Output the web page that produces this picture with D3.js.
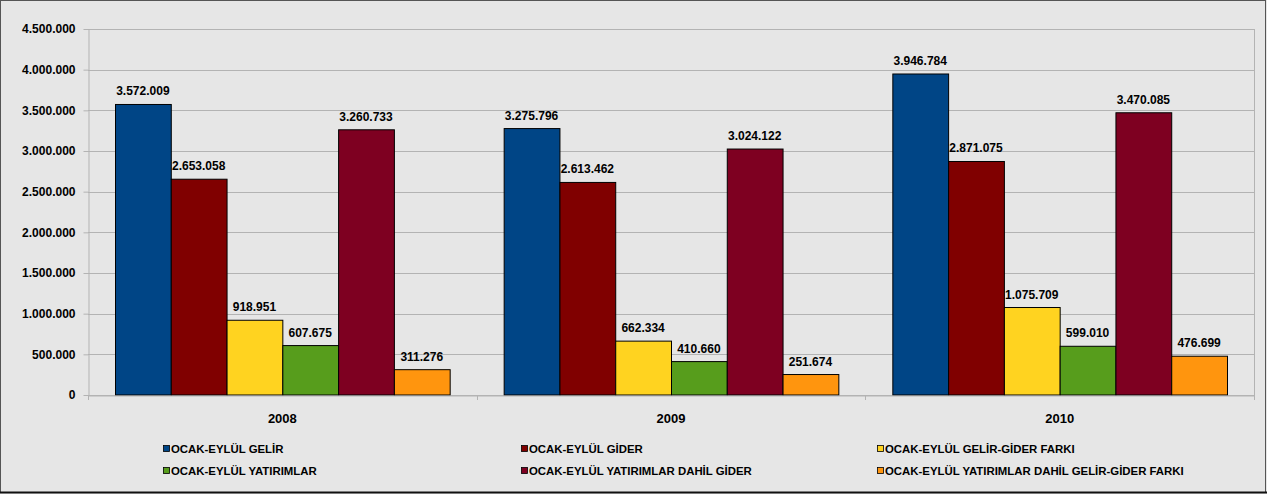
<!DOCTYPE html>
<html><head><meta charset="utf-8">
<script src="https://cdn.jsdelivr.net/npm/d3@7"></script>
<style>
html,body{margin:0;padding:0;background:#e6e6e6;}
svg{display:block;font-family:"Liberation Sans",Arial,sans-serif;}
</style></head>
<body><svg id="c" width="1267" height="494"></svg>
<script>
const categories = ["2008","2009","2010"];
const seriesNames = ["OCAK-EYLÜL GELİR","OCAK-EYLÜL GİDER","OCAK-EYLÜL GELİR-GİDER FARKI","OCAK-EYLÜL YATIRIMLAR","OCAK-EYLÜL YATIRIMLAR DAHİL GİDER","OCAK-EYLÜL YATIRIMLAR DAHİL GELİR-GİDER FARKI"];
const gelir = [3572009,3275796,3946784];
const gider = [2653058,2613462,2871075];
const fark = [918951,662334,1075709];
const yatirimlar = [607675,410660,599010];
const yatirimDahilGider = [3260733,3024122,3470085];
const yatirimDahilFark = [311276,251674,476699];
const yTicks = [0,500000,1000000,1500000,2000000,2500000,3000000,3500000,4000000,4500000];
const colors = ["#004586","#800000","#ffd320","#579d1c","#7e0021","#ff950e"];
const series = [gelir,gider,fark,yatirimlar,yatirimDahilGider,yatirimDahilFark];

const fmt = v => d3.format(",")(v).replace(/,/g,".");
const svg = d3.select("#c");
// outer frame
svg.append("rect").attr("x",0.5).attr("y",0.5).attr("width",1265).attr("height",492)
  .attr("fill","#e6e6e6").attr("stroke","#555").attr("stroke-width",1);
svg.append("line").attr("x1",0).attr("x2",1267).attr("y1",492.5).attr("y2",492.5).attr("stroke","#111").attr("stroke-width",2);

const L=88, R=1254, T=29, B=395;
const y = d3.scaleLinear().domain([0,4500000]).range([B,T]);
const x0 = d3.scaleBand().domain(categories).range([L,R]).paddingInner(0).paddingOuter(0);
const x1 = d3.scaleBand().domain(d3.range(6)).range([27, x0.bandwidth()-27]).padding(0);

// gridlines
svg.append("g").selectAll("line").data(yTicks).join("line")
  .attr("x1",L).attr("x2",R).attr("y1",d=>Math.round(y(d))+0.5).attr("y2",d=>Math.round(y(d))+0.5)
  .attr("stroke","#b3b3b3").attr("stroke-width",1);
// right border of plot
svg.append("line").attr("x1",R+0.5).attr("x2",R+0.5).attr("y1",T).attr("y2",B).attr("stroke","#b3b3b3");

// y axis
const ya = svg.append("g").attr("transform",`translate(${L+0.5},0)`)
  .call(d3.axisLeft(y).tickValues(yTicks).tickFormat(fmt).tickSize(5).tickSizeOuter(0));
ya.select(".domain").attr("stroke","#b3b3b3");
ya.selectAll(".tick line").attr("stroke","#b3b3b3");
ya.selectAll("text").attr("font-size","12px").attr("font-weight","bold").attr("fill","#000")
  .attr("x",-13).attr("font-family","Liberation Sans, Arial, sans-serif");

// bars
const g = svg.append("g");
categories.forEach((c,ci)=>{
  series.forEach((s,si)=>{
    const bx = x0(c)+x1(si);
    g.append("rect").attr("x",bx+0.5).attr("y",y(s[ci])).attr("width",x1.bandwidth()).attr("height",B-y(s[ci]))
      .attr("fill",colors[si]).attr("stroke","#000").attr("stroke-width",1);
    g.append("text").attr("x",bx+x1.bandwidth()/2).attr("y",y(s[ci])-9)
      .attr("text-anchor","middle").attr("font-size","12px").attr("font-weight","bold").text(fmt(s[ci]));
  });
});

// x axis
const xa = svg.append("g").attr("transform",`translate(0,${B+0.5})`)
  .call(d3.axisBottom(x0).tickSize(0).tickSizeOuter(0));
xa.select(".domain").attr("stroke","#b3b3b3");
xa.selectAll("text").attr("font-size","13px").attr("font-weight","bold").attr("fill","#000")
  .attr("dy","0").attr("y",27).attr("font-family","Liberation Sans, Arial, sans-serif");
// category boundary ticks
svg.append("g").selectAll("line").data(d3.range(4)).join("line")
  .attr("x1",d=>Math.round(L+d*x0.bandwidth())+0.5).attr("x2",d=>Math.round(L+d*x0.bandwidth())+0.5)
  .attr("y1",B).attr("y2",B+5).attr("stroke","#b3b3b3");

// legend
const legX = [163,521,877], legY=[453,475];
seriesNames.forEach((n,i)=>{
  const lx = legX[i%3], ly = legY[Math.floor(i/3)];
  svg.append("rect").attr("x",lx+0.5).attr("y",ly-7.5).attr("width",6).attr("height",6)
    .attr("fill",colors[i]).attr("stroke","#000").attr("stroke-width",0.8);
  svg.append("text").attr("x",lx+8).attr("y",ly).attr("font-size","11.4px").attr("font-weight","bold").text(n);
});
</script></body></html>
